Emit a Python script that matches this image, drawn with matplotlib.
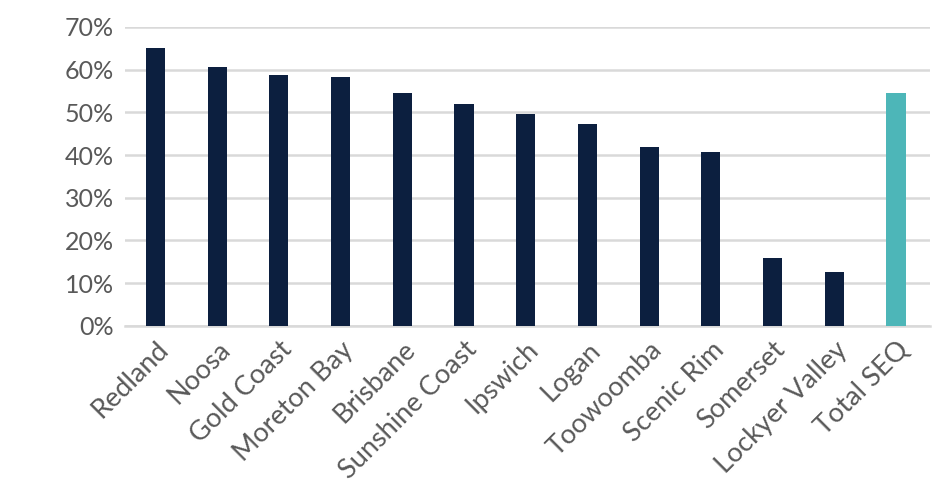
import numpy as np
import matplotlib.pyplot as plt
from matplotlib.ticker import PercentFormatter

# regions and share (%)
regions = ['Redland', 'Noosa', 'Gold Coast', 'Moreton Bay', 'Brisbane',
           'Sunshine Coast', 'Ipswich', 'Logan', 'Toowoomba', 'Scenic Rim',
           'Somerset', 'Lockyer Valley', 'Total SEQ']
values = [65.1, 60.7, 58.7, 58.3, 54.6, 52.0, 49.6, 47.3, 41.9, 40.8, 16.0, 12.7, 54.6]
colors = ['#0C1F3F'] * 12 + ['#4DB6B8']

plt.rcParams['font.family'] = ['Lato', 'DejaVu Sans']

fig = plt.figure(figsize=(9.48, 4.99), dpi=100)
ax = fig.add_axes([0.132, 0.347, 0.849, 0.599])

x = np.arange(len(regions))
ax.bar(x, values, width=0.31, color=colors, zorder=3)

ax.set_ylim(0, 70)
ax.set_yticks(np.arange(0, 71, 10))
ax.yaxis.set_major_formatter(PercentFormatter(decimals=0))
ax.set_xlim(-0.49, len(regions) - 0.45)
ax.set_xticks(x)
ax.set_xticklabels(regions, rotation=45, ha='right', rotation_mode='anchor')

ax.grid(axis='y', color='#D9D9D9', linewidth=1.8, zorder=0)
for s in ['top', 'right', 'left']:
    ax.spines[s].set_visible(False)
ax.spines['bottom'].set_color('#D9D9D9')
ax.spines['bottom'].set_linewidth(1.8)
ax.tick_params(axis='both', length=0, labelsize=18, colors='#595959', pad=8)
ax.tick_params(axis='x', labelsize=19.5)

plt.savefig('out.png', dpi=100)
